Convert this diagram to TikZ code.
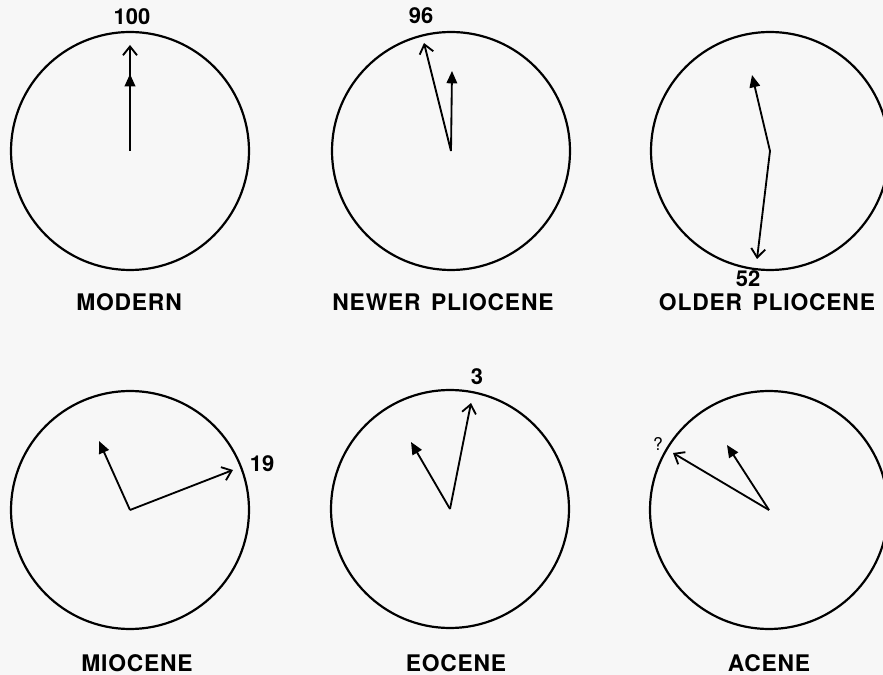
\documentclass[tikz,border=0pt]{standalone}
\usepackage{fontspec}
\setmainfont{TeX Gyre Heros}
\newfontfamily\spacedfont[LetterSpace=3.5]{TeX Gyre Heros}
\usetikzlibrary{arrows.meta}

\definecolor{paper}{gray}{0.97}

\tikzset{
    dial/.style={line width=1.25pt},
    short vec/.style={line width=1.05pt, -{Triangle[length=7pt,width=6pt]}},
    long vec/.style={line width=1.05pt, -{Straight Barb[length=5pt,width=8pt,line width=1.05pt]}},
    epoch/.style={font=\spacedfont\bfseries\fontsize{13}{15}\selectfont},
    count/.style={font=\bfseries\fontsize{12.5}{14}\selectfont, inner sep=0pt},
}

\begin{document}
\begin{tikzpicture}[x=0.02cm, y=-0.02cm]
    \fill[paper] (0,0) rectangle (883,675);
    \clip (0,0) rectangle (883,675);

    % one dial per epoch: centre, tip of the filled arrow, tip of the open arrow
    \foreach \n/\cx/\cy/\fx/\fy/\ox/\oy in {
        1/130/151/130/74/130/45,
        2/451/151/452/71/424/43,
        3/770/151/752/75/757/259,
        4/130/510/99/441/233/470,
        5/450/509/411/442/471/403,
        6/769/510/727/445/673/453} {
        \coordinate (ctr\n) at (\cx,\cy);
        \coordinate (fill\n) at (\fx,\fy);
        \coordinate (open\n) at (\ox,\oy);
        \draw[dial] (ctr\n) circle (2.38cm);
        \draw[short vec] (ctr\n) -- (fill\n);
        \draw[long vec] (ctr\n) -- (open\n);
    }

    % counts at the open arrows
    \node[count] (n1) at (132,17) {100};
    \node[count] (n2) at (421,16) {96};
    \node[count] (n3) at (748,279) {52};
    \node[count] (n4) at (262,464) {19};
    \node[count] (n5) at (477,377) {3};
    \node[font=\fontsize{10}{12}\selectfont, inner sep=0pt] (n6) at (658,444) {?};

    % epoch names
    \node[epoch] (e1) at (129,302) {MODERN};
    \node[epoch] (e2) at (443,302) {NEWER\hspace{6pt}PLIOCENE};
    \node[epoch] (e3) at (767,302) {OLDER\hspace{6pt}PLIOCENE};
    \node[epoch] (e4) at (137,663) {MIOCENE};
    \node[epoch] (e5) at (456,663) {EOCENE};
    \node[epoch] (e6) at (769,663) {ACENE};
\end{tikzpicture}
\end{document}
